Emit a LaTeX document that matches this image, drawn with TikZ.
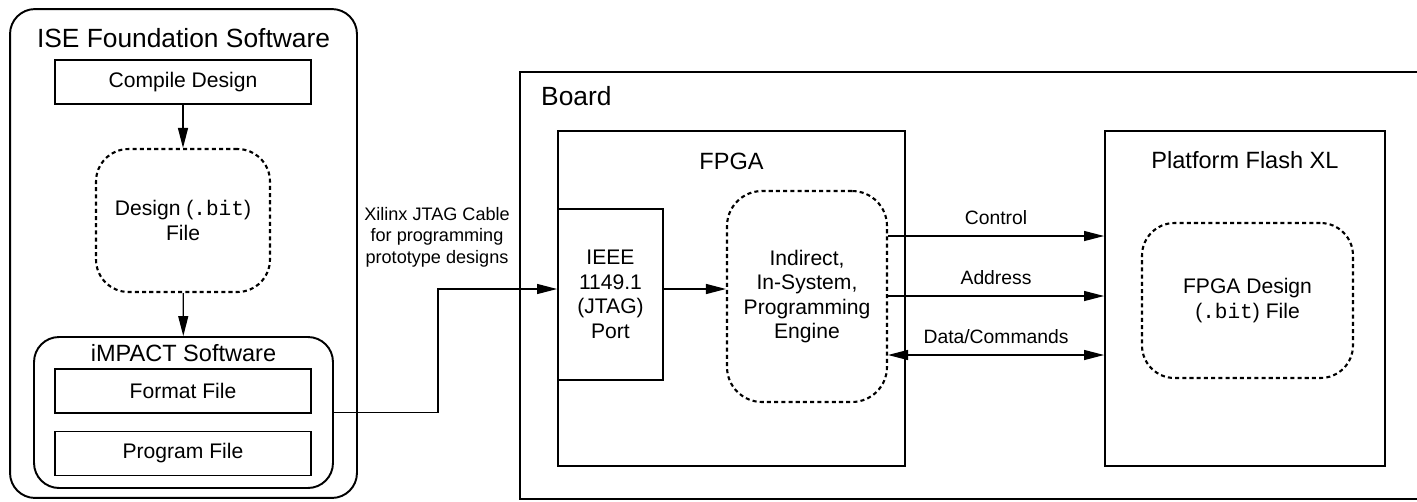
\documentclass[tikz,border=0pt]{standalone}
\usepackage{fontspec}
\setmainfont{Liberation Sans}
\setmonofont{Liberation Mono}
\usetikzlibrary{arrows.meta, calc}

\begin{document}
\begin{tikzpicture}[x=0.02cm, y=-0.02cm,
			>={Triangle[length=0.4cm, width=0.2cm]},
			conn/.style={line width=0.7pt},
			box/.style={draw, line width=1.1pt, minimum width=5.12cm, minimum height=0.88cm, font=\fontsize{12}{14}\selectfont},
			roundbox/.style={draw, line width=1.1pt, rounded corners=0.5cm},
			dashbox/.style={draw, line width=1.2pt, dash pattern=on 2.3pt off 1.8pt, rounded corners=0.65cm, align=center, font=\fontsize{12}{14}\selectfont},
			bigtitle/.style={font=\fontsize{15}{18}\selectfont},
			title/.style={font=\fontsize{13.4}{16}\selectfont},
			lbl/.style={font=\fontsize{11}{13}\selectfont, above=3pt}]
			
			\useasboundingbox (0,0) rectangle (1417,501);
			
			\node[roundbox, minimum width=6.94cm, minimum height=9.78cm] (ise) at (183.5,253.5) {};
			\node[bigtitle] (isetitle) at (183.5,38) {ISE Foundation Software};
			\node[box] (compile) at (183,82) {Compile Design};
			\node[dashbox, minimum width=3.48cm, minimum height=2.86cm] (design) at (183,220.5) {Design (\texttt{.bit})\\File};
			\node[roundbox, minimum width=5.98cm, minimum height=3.02cm] (impact) at (183.5,412.5) {};
			\node[title] (impacttitle) at (183.5,353) {iMPACT Software};
			\node[box] (format) at (183,391) {Format File};
			\node[box] (program) at (183,453.5) {Program File};
			\draw[->, conn] (compile) -- (design);
			\draw[->, conn] (design) -- (impact);
			
			\draw[line width=1.1pt] (1417,72) -- (520,72) -- (520,499) -- (1417,499);
			\node[bigtitle, anchor=west] (board) at (535,96) {Board};
			
			\node[draw, line width=1.1pt, minimum width=6.94cm, minimum height=6.7cm] (fpga) at (731.5,298.5) {};
			\node[title] (fpgatitle) at (731.5,161) {FPGA};
			\node[draw, line width=1.1pt, minimum width=2.1cm, minimum height=3.42cm, align=center, font=\fontsize{12}{14}\selectfont] (ieee) at (610.5,294.5) {IEEE\\1149.1\\(JTAG)\\Port};
			\node[dashbox, minimum width=3.2cm, minimum height=4.22cm, rounded corners=0.7cm] (engine) at (807,296.5) {Indirect,\\In-System,\\Programming\\Engine};
			
			\node[draw, line width=1.1pt, minimum width=5.6cm, minimum height=6.7cm] (flash) at (1245,298.5) {};
			\node[title] (flashtitle) at (1245,160) {Platform Flash XL};
			\node[dashbox, minimum width=4.22cm, minimum height=3.1cm] (flashfile) at (1247.5,300.5) {FPGA Design\\(\texttt{.bit}) File};
			
			\node[font=\fontsize{10.3}{12.2}\selectfont, align=center] (cable) at (437,237) {Xilinx JTAG Cable\\for programming\\prototype designs};
			\coordinate (bend) at (438,289);
			\draw[->, conn] (impact.east) -| (bend) -- (bend -| ieee.west);
			\draw[->, conn] (bend -| ieee.east) -- (bend -| engine.west);
			
			\coordinate (ctl) at (887,236);
			\coordinate (adr) at (887,296);
			\coordinate (dat) at (887,355);
			\draw[->, conn] (ctl -| engine.east) -- node[lbl] {Control} (ctl -| flash.west);
			\draw[->, conn] (adr -| engine.east) -- node[lbl] {Address} (adr -| flash.west);
			\draw[<->, conn] (dat -| engine.east) -- node[lbl] {Data/Commands} (dat -| flash.west);
		\end{tikzpicture}
\end{document}
